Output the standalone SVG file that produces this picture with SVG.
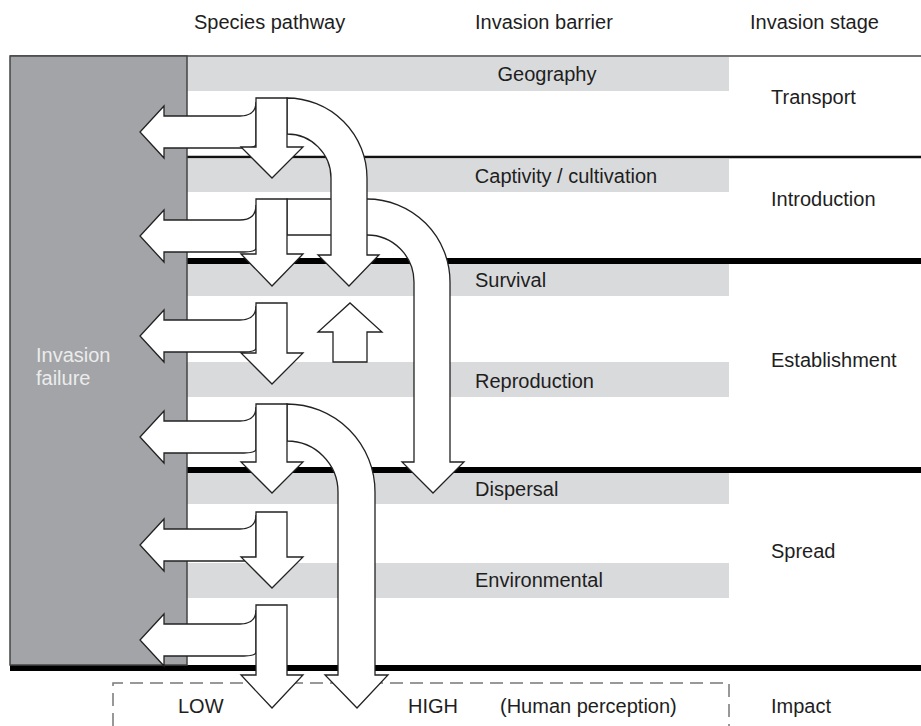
<svg xmlns="http://www.w3.org/2000/svg" width="921" height="726" viewBox="0 0 921 726">
<style>
text{font-family:"Liberation Sans",Arial,Helvetica,sans-serif;font-size:20px;fill:#1e1e1e}
.band{fill:#d9dadc}
.arr{fill:#fff;stroke:#222;stroke-width:1.3;stroke-linejoin:miter}
.thick{stroke:#000;stroke-width:6}
</style>
<rect width="921" height="726" fill="#fff"/>
<g id="headers">
<text x="194" y="29">Species pathway</text>
<text x="475" y="29">Invasion barrier</text>
<text x="750" y="29">Invasion stage</text>
</g>
<g id="barriers">
<rect class="band" x="187" y="57" width="542" height="34"/>
<rect class="band" x="187" y="159" width="542" height="33"/>
<rect class="band" x="187" y="264" width="542" height="32"/>
<rect class="band" x="187" y="362" width="542" height="35"/>
<rect class="band" x="187" y="473" width="542" height="31"/>
<rect class="band" x="187" y="563" width="542" height="35"/>
<text x="547" y="81" text-anchor="middle">Geography</text>
<text x="566" y="183" text-anchor="middle">Captivity / cultivation</text>
<text x="475" y="287">Survival</text>
<text x="475" y="388">Reproduction</text>
<text x="475" y="496">Dispersal</text>
<text x="475" y="587">Environmental</text>
</g>
<g id="stage-lines">
<line x1="10" y1="56" x2="921" y2="56" stroke="#444" stroke-width="1.5"/>
<line x1="187" y1="157" x2="921" y2="157" stroke="#111" stroke-width="2.5"/>
<line class="thick" x1="187" y1="261" x2="921" y2="261"/>
<line class="thick" x1="187" y1="470" x2="921" y2="470"/>
<line class="thick" x1="10" y1="668" x2="921" y2="668"/>
</g>
<g id="stages">
<text x="771" y="104">Transport</text>
<text x="771" y="206">Introduction</text>
<text x="771" y="367">Establishment</text>
<text x="771" y="558">Spread</text>
<text x="771" y="713">Impact</text>
</g>
<g id="invasion-failure">
<rect x="10" y="56" width="177" height="609" fill="#a2a4a7" stroke="#444" stroke-width="1.5"/>
<text x="36" y="362" style="fill:#ececec">Invasion</text>
<text x="36" y="385" style="fill:#ececec">failure</text>
</g>
<g id="impact">
<path d="M113 726 V683 H729 V726" fill="none" stroke="#777" stroke-width="1.5" stroke-dasharray="13 7"/>
<text x="178" y="713">LOW</text>
<text x="408" y="713">HIGH</text>
<text x="500" y="713">(Human perception)</text>
</g>
<g id="connectors">
<path class="arr" d="M256 102 Q256 116 240 116 H164 V106 L140 132 L164 158 V148 H244 Q256 148 256 144 Z"/>
<path class="arr" d="M256 205 Q256 220 240 220 H164 V210 L140 236 L164 262 V252 H244 Q256 252 256 248 Z"/>
<path class="arr" d="M256 306 Q256 320 240 320 H164 V310 L140 336 L164 362 V352 H244 Q256 352 256 348 Z"/>
<path class="arr" d="M256 407 Q256 421 240 421 H164 V411 L140 437 L164 463 V453 H244 Q256 453 256 449 Z"/>
<path class="arr" d="M256 515 Q256 529 240 529 H164 V519 L140 545 L164 571 V561 H244 Q256 561 256 557 Z"/>
<path class="arr" d="M256 610 Q256 624 240 624 H164 V614 L140 640 L164 666 V656 H244 Q256 656 256 652 Z"/>
<path class="arr" d="M287 199 H367 A83 83 0 0 1 450 282 V462 H464 L433 493 L402 462 H414 V282 A47 47 0 0 0 367 235 H287 Z"/>
<path class="arr" d="M287 98 A80 80 0 0 1 367 178 V255 H379 L349 286 L318 255 H331 V178 A44 44 0 0 0 287 134 Z"/>
<path class="arr" d="M287 404 A88 88 0 0 1 375 492 V675 H388 L357 708 L325 675 H338 V492 A51 51 0 0 0 287 441 Z"/>
<path class="arr" d="M256 98 H287 V147 H303 L272 178 L241 147 H256 Z"/>
<path class="arr" d="M256 199 H287 V254 H303 L272 286 L241 254 H256 Z"/>
<path class="arr" d="M256 303 H287 V353 H303 L272 384 L241 353 H256 Z"/>
<path class="arr" d="M256 404 H287 V462 H303 L272 493 L241 462 H256 Z"/>
<path class="arr" d="M256 512 H287 V557 H303 L272 588 L241 557 H256 Z"/>
<path class="arr" d="M256 605 H287 V675 H303 L272 708 L241 675 H256 Z"/>
<path class="arr" d="M333 362 V332 H318 L350 303 L382 332 H367 V362 Z"/>
</g>
</svg>
